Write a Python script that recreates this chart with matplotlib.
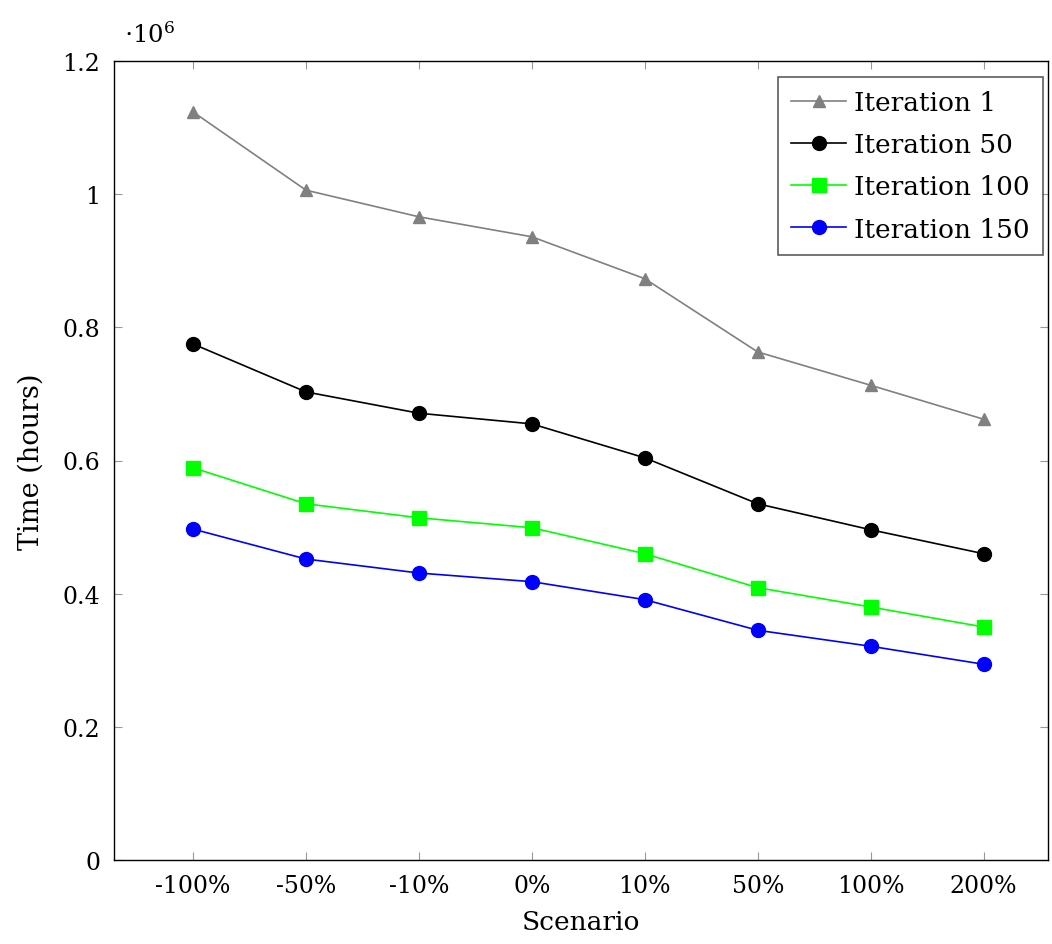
import numpy as np
import matplotlib.pyplot as plt
from matplotlib.ticker import FuncFormatter

plt.rcParams['font.family'] = ['DejaVu Serif']
plt.rcParams['mathtext.fontset'] = 'dejavuserif'

SCENARIOS = ['-100%', '-50%', '-10%', '0%', '10%', '50%', '100%', '200%']

# time in hours
ITER_1 = [1123500, 1006000, 966000, 936000, 873000, 763000, 713000, 662000]
ITER_50 = [775000, 703000, 671000, 655000, 604000, 535000, 496000, 460000]
ITER_100 = [589000, 535000, 514000, 499000, 460000, 409000, 380000, 350000]
ITER_150 = [497000, 452000, 431000, 418000, 391000, 345000, 321000, 294000]

SERIES = [
    ('Iteration 1', ITER_1, '#808080', '^', 9),
    ('Iteration 50', ITER_50, 'black', 'o', 10),
    ('Iteration 100', ITER_100, '#00ff00', 's', 9.5),
    ('Iteration 150', ITER_150, 'blue', 'o', 10),
]

fig = plt.figure(figsize=(10.52, 9.45), dpi=100)
ax = fig.add_axes([114 / 1052, 1 - 861 / 945, (1048 - 114) / 1052, (861 - 62) / 945])

x = np.arange(len(SCENARIOS))
for label, vals, color, marker, ms in SERIES:
    ax.plot(x, np.array(vals) / 1e6, color=color, marker=marker, markersize=ms,
            linewidth=1.2, label=label)

ax.set_xlim(-0.7, 7.57)
ax.set_ylim(0, 1.2)
ax.set_xticks(x)
ax.set_xticklabels(SCENARIOS)
ax.set_yticks([0, 0.2, 0.4, 0.6, 0.8, 1.0, 1.2])
ax.yaxis.set_major_formatter(FuncFormatter(lambda v, p: f'{v:g}'))
ax.tick_params(direction='in', length=6, width=0.8, color='#999999',
               top=True, right=True, labelsize=17, pad=10)
for s in ax.spines.values():
    s.set_linewidth(1.0)

ax.set_xlabel('Scenario', fontsize=19, labelpad=9)
ax.set_ylabel('Time (hours)', fontsize=19.5, labelpad=13)
ax.text(0.011, 1.018, r'$\cdot 10^6$', transform=ax.transAxes, fontsize=17.5,
        ha='left', va='bottom')

leg = ax.legend(loc='upper right', bbox_to_anchor=(0.9946, 0.98),
                fontsize=19, frameon=True, fancybox=False,
                edgecolor='#333333', handlelength=2.1, borderpad=0.5,
                labelspacing=0.65, handletextpad=0.3, borderaxespad=0.0)
leg.get_frame().set_linewidth(1.2)

fig.savefig('out.png', dpi=100)
